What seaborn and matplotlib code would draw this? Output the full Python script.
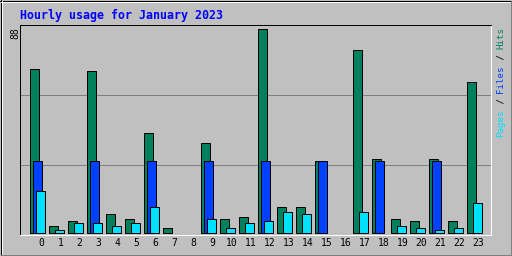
import numpy as np
import pandas as pd
import matplotlib
matplotlib.use("Agg")
import matplotlib.pyplot as plt
from matplotlib.lines import Line2D
import seaborn as sns

# ---- data ----
hours = list(range(24))
hits  = [71, 3, 5, 70, 8, 6, 43, 2, 0, 39, 6, 7, 88, 11, 11, 31, 0, 79, 32, 6, 5, 32, 5, 65]
files = [31, 0, 0, 31, 0, 0, 31, 0, 0, 31, 0, 0, 31, 0, 0, 31, 0, 0, 31, 0, 0, 31, 0, 0]
pages = [18, 1, 4, 4, 3, 4, 11, 0, 0, 6, 2, 4, 5, 9, 8, 0, 0, 9, 0, 3, 2, 1, 2, 13]
max_label = "88"
title = "Hourly usage for January 2023"

C_HITS, C_FILES, C_PAGES = "#00805C", "#0040FF", "#00E0FF"
BG = "#C0C0C0"

sns.set_style("white")
plt.rcParams["font.family"] = ["DejaVu Sans Mono"]

W, H = 512, 256
fig = plt.figure(figsize=(W / 100, H / 100), dpi=100, facecolor=BG)
px = 72 / 100  # points per pixel

# plot area in pixels
L, R, T, B = 20, 491, 25, 235
ax = fig.add_axes([L / W, 1 - B / H, (R - L) / W, (B - T) / H])
ax.set_facecolor(BG)

step = 19.0           # px per hour
off = 3.0 / step      # offset between overlapping bars
bw = 9.5 / step       # bar width (in hours)

series = [(hits, -off, C_HITS), (files, 0.0, C_FILES), (pages, off, C_PAGES)]
for vals, dx, col in series:
    df = pd.DataFrame({"x": np.array(hours, dtype=float) + dx, "y": vals})
    df = df[df["y"] > 0]
    native = np.diff(np.unique(df["x"])).min() if len(df) > 1 else 1.0
    sns.barplot(data=df, x="x", y="y", native_scale=True, width=bw / native,
                color=col, saturation=1, edgecolor="black", linewidth=1 * px,
                errorbar=None, ax=ax, zorder=3)

# limits so that files-bar centre of hour 0 sits at 37.5 px
x0 = 37.5
ax.set_xlim((L - x0) / step, (R - x0) / step)
ppu = (232.7 - 29.3) / 88.0
ax.set_ylim(-(B - 232.7) / ppu, (232.7 - T) / ppu)

for g in (88 / 3, 59.5):
    ax.axhline(g, color="#808080", lw=1 * px, zorder=1)

ax.set_yticks([])
ax.set_xticks(np.array(hours) + 0.2)
ax.set_xticklabels([str(h) for h in hours], fontsize=7, color="black")
ax.tick_params(axis="x", length=0, pad=2)
ax.set_xlabel("")
ax.set_ylabel("")

for s in ("left", "top"):
    ax.spines[s].set_color("black")
    ax.spines[s].set_linewidth(1 * px)
for s in ("right", "bottom"):
    ax.spines[s].set_color("white")
    ax.spines[s].set_linewidth(1 * px)

# title
fig.text(20 / W, 1 - 15 / H, title, color="#0000FF", fontsize=8.4,
         fontweight="bold", ha="left", va="center")

# max label
fig.text(15 / W, 1 - 33 / H, max_label, rotation=90, fontsize=7,
         ha="center", va="center", color="black")

# right legend label, rotated, multi-colour
segs = [("Pages", C_PAGES), (" / ", "black"), ("Files", C_FILES),
        (" / ", "black"), ("Hits", C_HITS)]
fs = 6.6
cw = 0.602 * fs / px  # char width in px
ypos = 137.0
for txt, col in segs:
    fig.text(500.5 / W, 1 - ypos / H, txt, rotation=90, fontsize=fs,
             color=col, ha="center", va="bottom")
    ypos -= cw * len(txt)

# outer border
def hline(y, x1, x2, c):
    fig.add_artist(Line2D([x1 / W, x2 / W], [1 - y / H, 1 - y / H], color=c, lw=1 * px))
def vline(x, y1, y2, c):
    fig.add_artist(Line2D([x / W, x / W], [1 - y1 / H, 1 - y2 / H], color=c, lw=1 * px))

hline(0.5, 0, W, "black"); vline(0.5, 0, H, "black")
hline(1.5, 1, W - 2, "white"); vline(1.5, 1, H - 2, "white")
hline(H - 0.5, 0, W, "#808080"); vline(W - 0.5, 0, H, "#808080")
hline(H - 1.5, 1, W - 1, "#808080"); vline(W - 1.5, 1, H - 1, "#808080")

fig.savefig("out.png", dpi=100, facecolor=BG)
